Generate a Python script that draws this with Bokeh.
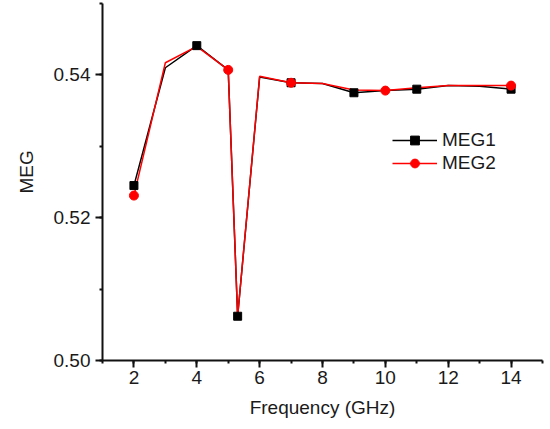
from bokeh.plotting import figure
from bokeh.models import SingleIntervalTicker, PrintfTickFormatter, Legend, LegendItem, Range1d, Title
from bokeh.embed import file_html
from bokeh.resources import INLINE

freq = [2, 3, 4, 5, 5.3, 6, 7, 8, 9, 10, 11, 12, 13, 14]
meg1 = [0.5245, 0.5410, 0.5441, 0.5407, 0.5062, 0.5397, 0.5389, 0.5388, 0.5375, 0.5378, 0.5380, 0.5385, 0.5384, 0.5380]
meg2 = [0.5231, 0.5417, 0.5440, 0.5407, 0.5062, 0.5398, 0.5389, 0.5388, 0.5379, 0.5378, 0.5382, 0.5385, 0.5385, 0.5385]
meg1_marked = [0, 2, 4, 6, 8, 10, 13]
meg2_marked = [0, 3, 6, 9, 13]

FONT = "Liberation Sans"
FS = "19px"
TXT = "#1a1a1a"

p = figure(width=550, height=429, output_backend="svg", toolbar_location=None,
           x_range=Range1d(1, 15), y_range=Range1d(0.50, 0.55),
           min_border_left=102, min_border_right=8, min_border_top=3, min_border_bottom=69)
p.outline_line_color = None
p.xgrid.visible = False
p.ygrid.visible = False
p.background_fill_color = "white"
p.border_fill_color = "white"

p.xaxis.ticker = SingleIntervalTicker(interval=2, num_minor_ticks=2)
p.yaxis.ticker = SingleIntervalTicker(interval=0.02, num_minor_ticks=2)
p.yaxis.formatter = PrintfTickFormatter(format="%.2f")

for ax in (p.xaxis[0], p.yaxis[0]):
    ax.axis_line_width = 2
    ax.axis_line_color = "#111111"
    ax.major_tick_line_width = 2
    ax.major_tick_line_color = "#111111"
    ax.minor_tick_line_width = 2
    ax.minor_tick_line_color = "#111111"
    ax.major_tick_in = 0
    ax.major_tick_out = 7
    ax.minor_tick_in = 0
    ax.minor_tick_out = 3
    ax.major_label_text_font = FONT
    ax.major_label_text_font_size = FS
    ax.major_label_text_color = TXT
    ax.axis_label_text_font = FONT
    ax.axis_label_text_font_size = FS
    ax.axis_label_text_font_style = "normal"
    ax.axis_label_text_color = TXT

p.xaxis.axis_label = "Frequency (GHz)"
p.xaxis.major_label_standoff = 3
p.yaxis.major_label_standoff = 5
p.xaxis.axis_label_standoff = 10

# y-axis title, shifted a little above the frame centre as in the reference
p.add_layout(Title(text="MEG", align="left", offset=167, standoff=27,
                   text_font=FONT, text_font_size=FS, text_font_style="normal",
                   text_color=TXT), "left")

l1 = p.line(freq, meg1, line_color="black", line_width=1.5)
l2 = p.line(freq, meg2, line_color="red", line_width=1.5)
# small legend symbols (hidden under the plot markers)
g1 = p.scatter([freq[0]], [meg1[0]], marker="square", size=5, fill_color="black", line_color="black")
g2 = p.scatter([freq[0]], [meg2[0]], marker="circle", size=6, fill_color="red", line_color="red")
s1 = p.scatter([freq[i] for i in meg1_marked], [meg1[i] for i in meg1_marked],
               marker="square", size=8, fill_color="black", line_color="black")
s2 = p.scatter([freq[i] for i in meg2_marked], [meg2[i] for i in meg2_marked],
               marker="circle", size=9, fill_color="red", line_color="red")
legend = Legend(items=[LegendItem(label="MEG1", renderers=[l1, g1]),
                       LegendItem(label="MEG2", renderers=[l2, g2])],
                location=(290, 186), padding=0, margin=0, spacing=1,
                glyph_width=45, glyph_height=22, label_height=22, label_standoff=5,
                label_text_font=FONT, label_text_font_size=FS, label_text_color=TXT,
                border_line_color=None, background_fill_alpha=0)
p.add_layout(legend, "center")

open("out.html", "w").write(file_html(p, INLINE))
